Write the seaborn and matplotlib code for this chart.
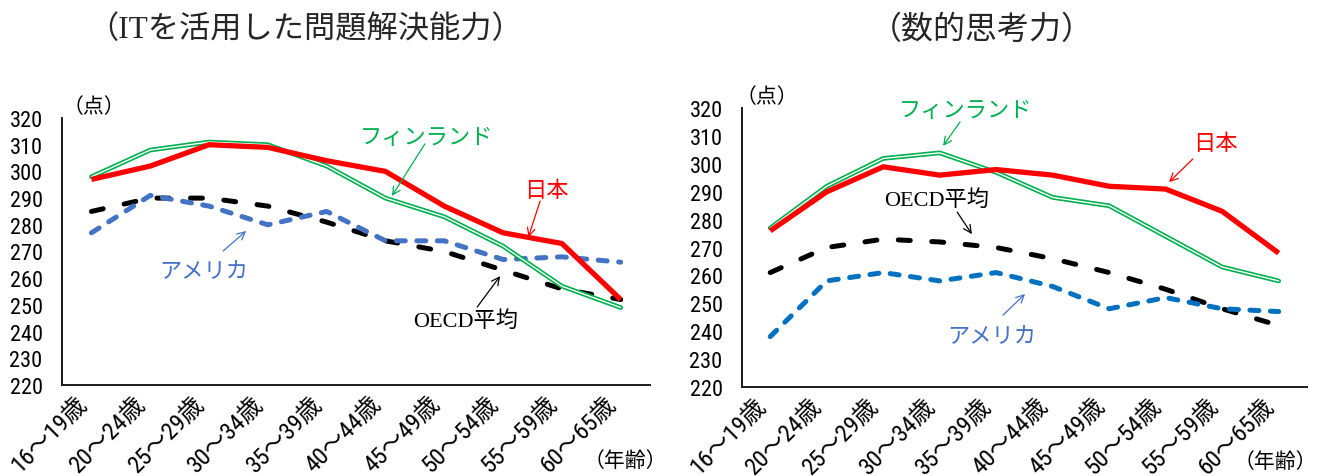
import numpy as np
import pandas as pd
import matplotlib
matplotlib.use("Agg")
import matplotlib.pyplot as plt
from matplotlib import font_manager as fm
import seaborn as sns

# Age groups (x axis)
ages = ["16～19歳", "20～24歳", "25～29歳", "30～34歳", "35～39歳",
        "40～44歳", "45～49歳", "50～54歳", "55～59歳", "60～65歳"]

# IT problem-solving scores by age group
it_japan = [297, 302, 310, 309, 304, 300, 287, 277, 273, 252]
it_finland = [298, 308, 311, 310, 302, 290, 283, 272, 257, 249]
it_oecd = [285, 290, 290, 287, 281, 274, 270, 263, 256, 252]
it_usa = [277, 291, 287, 280, 285, 274, 274, 267, 268, 266]

# Numeracy scores by age group
num_japan = [276, 290, 299, 296, 298, 296, 292, 291, 283, 268]
num_finland = [277, 292, 302, 304, 297, 288, 285, 274, 263, 258]
num_oecd = [261, 270, 273, 272, 270, 266, 261, 255, 248, 242]
num_usa = [238, 258, 261, 258, 261, 256, 248, 252, 248, 247]

y_ticks = list(range(220, 321, 10))

sns.set_style("white")
JP = "Noto Sans CJK JP"
plt.rcParams["font.family"] = [JP, "DejaVu Sans"]

# pick a condensed face for the numerals when one is available
_installed = {f.name for f in fm.fontManager.ttflist}
_narrow = next((n for n in ["Liberation Sans Narrow", "Arial Narrow",
                            "Roboto Condensed", "Liberation Sans"]
                if n in _installed), "DejaVu Sans")
NARROW = [_narrow, JP]
SERIF = ["Liberation Serif", JP]

GREEN = "#00B050"
RED = "#FF0000"
BLACK = "#000000"

fig = plt.figure(figsize=(13.2, 4.77), dpi=100)
ax1 = fig.add_axes([0.0470, 0.1908, 0.4455, 0.5597])
ax2 = fig.add_axes([0.5621, 0.1872, 0.4280, 0.5836])


def draw_panel(ax, japan, finland, oecd, usa, usa_color):
    df = pd.DataFrame({"age": ages, "japan": japan, "finland": finland,
                       "oecd": oecd, "usa": usa})
    sns.lineplot(data=df, x="age", y="oecd", ax=ax, color=BLACK, lw=3.6,
                 linestyle=(0, (2.4, 4.3)), dash_capstyle="round", sort=False, zorder=2)
    sns.lineplot(data=df, x="age", y="usa", ax=ax, color=usa_color, lw=3.6,
                 linestyle=(0, (1.8, 2.3)), dash_capstyle="round", sort=False, zorder=3)
    # double green line: green stroke with a thin white core
    sns.lineplot(data=df, x="age", y="finland", ax=ax, color=GREEN, lw=3.4,
                 sort=False, zorder=4)
    sns.lineplot(data=df, x="age", y="finland", ax=ax, color="white", lw=1.0,
                 sort=False, zorder=5)
    sns.lineplot(data=df, x="age", y="japan", ax=ax, color=RED, lw=3.8,
                 sort=False, zorder=6, solid_capstyle="butt")

    ax.set_xlim(-0.5, len(ages) - 0.5)
    ax.set_ylim(220, 320)
    ax.set_yticks(y_ticks)
    ax.set_yticklabels([str(v) for v in y_ticks], family=NARROW, fontsize=16)
    ax.set_xticks(range(len(ages)))
    ax.set_xticklabels(ages, family=NARROW, fontsize=17.5, rotation=45,
                       ha="right", va="top", rotation_mode="default")
    ax.tick_params(axis="both", length=0, colors=BLACK)
    ax.tick_params(axis="y", pad=14)
    ax.tick_params(axis="x", pad=5)
    ax.set_xlabel("")
    ax.set_ylabel("")
    for side in ("top", "right"):
        ax.spines[side].set_visible(False)
    for side in ("left", "bottom"):
        ax.spines[side].set_color("#1a1a1a")
        ax.spines[side].set_linewidth(1.4)
    ax.grid(False)


def label(ax, text, txt_xy, tail, head, color, family=None):
    ax.text(*txt_xy, text, color=color, fontsize=16, ha="center", va="center",
            family=family if family else [JP], zorder=10)
    ax.annotate("", xy=head, xytext=tail,
                arrowprops=dict(arrowstyle="->", color=color, lw=0.9,
                                mutation_scale=14, shrinkA=0, shrinkB=0),
                zorder=10)


draw_panel(ax1, it_japan, it_finland, it_oecd, it_usa, "#4472C4")
draw_panel(ax2, num_japan, num_finland, num_oecd, num_usa, "#0070C0")

# Series labels, left panel
label(ax1, "フィンランド", (5.69, 312.9), (5.67, 310.3), (5.11, 290.8), GREEN)
label(ax1, "日本", (7.73, 293.4), (7.63, 288.9), (7.43, 275.4), RED)
label(ax1, "アメリカ", (1.91, 262.7), (2.24, 270.2), (2.63, 277.7), "#4472C4")
label(ax1, "OECD平均", (6.37, 244.0), (6.56, 249.2), (6.95, 260.8), BLACK, SERIF)

# Series labels, right panel
label(ax2, "フィンランド", (3.45, 319.4), (3.36, 315.1), (3.06, 306.5), GREEN)
label(ax2, "日本", (7.87, 307.9), (7.48, 301.8), (7.06, 293.5), RED)
label(ax2, "OECD平均", (2.95, 287.4), (3.31, 282.7), (3.57, 274.8), BLACK, SERIF)
label(ax2, "アメリカ", (3.92, 238.5), (4.12, 245.7), (4.51, 253.3), "#4472C4")

# Unit labels
ax1.text(0.054, 1.045, "（点）", transform=ax1.transAxes, fontsize=15,
         ha="center", va="center", color=BLACK)
ax2.text(0.044, 1.043, "（点）", transform=ax2.transAxes, fontsize=15,
         ha="center", va="center", color=BLACK)
ax1.text(0.957, -0.282, "（年齢）", transform=ax1.transAxes, fontsize=15,
         ha="center", va="center", color=BLACK)
ax2.text(1.017, -0.266, "（年齢）", transform=ax2.transAxes, fontsize=15,
         ha="right", va="center", color=BLACK)

# Panel titles
fig.text(305 / 1320, 1 - 30 / 477, "（ITを活用した問題解決能力）", fontsize=22.5,
         ha="center", va="center", family=SERIF)
fig.text(982 / 1320, 1 - 30 / 477, "（数的思考力）", fontsize=23,
         ha="center", va="center", family=[JP])

fig.savefig("out.png", dpi=100)
